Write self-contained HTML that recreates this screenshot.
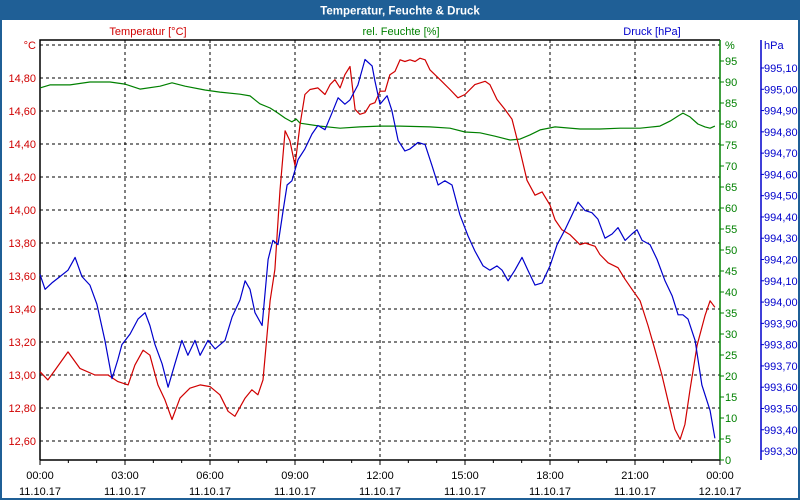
<!DOCTYPE html>
<html><head><meta charset="utf-8"><style>
body{margin:0;background:#fff;}
#w{width:800px;height:500px;position:relative;overflow:hidden;}
svg text{font-family:"Liberation Sans","DejaVu Sans",sans-serif;font-size:11px;}
</style></head><body>
<div id="w">
<svg id="c" width="800" height="500" xmlns="http://www.w3.org/2000/svg">
<rect x="0" y="0" width="800" height="500" fill="#fff" stroke="#1f5f96" stroke-width="4"/>
<rect x="0" y="0" width="800" height="20" fill="#1f5f96"/>
<text x="400" y="14.5" text-anchor="middle" fill="#fff" font-weight="bold" style="font-size:11.5px">Temperatur, Feuchte &amp; Druck</text>
<text x="148" y="35" text-anchor="middle" fill="#d00000">Temperatur [°C]</text>
<text x="401" y="35" text-anchor="middle" fill="#008000">rel. Feuchte [%]</text>
<text x="652" y="35" text-anchor="middle" fill="#0000cc">Druck [hPa]</text>
<g id="grid"></g>
<g id="axes"></g>
<g id="series"></g>
</svg>
</div>
<script>
const xTickHours=[0,3,6,9,12,15,18,21,24];
const xTickTimes=["00:00","03:00","06:00","09:00","12:00","15:00","18:00","21:00","00:00"];
const xTickDates=["11.10.17","11.10.17","11.10.17","11.10.17","11.10.17","11.10.17","11.10.17","11.10.17","12.10.17"];
const tempTicks=[14.8,14.6,14.4,14.2,14.0,13.8,13.6,13.4,13.2,13.0,12.8,12.6];
const humTicks=[95,90,85,80,75,70,65,60,55,50,45,40,35,30,25,20,15,10,5,0];
const presTicks=[995.1,995.0,994.9,994.8,994.7,994.6,994.5,994.4,994.3,994.2,994.1,994.0,993.9,993.8,993.7,993.6,993.5,993.4,993.3];

const tempHours=[0,.28,.53,.99,1.41,1.94,2.4,2.75,3.11,3.35,3.64,3.88,4.16,4.41,4.66,4.94,5.29,5.65,6,6.35,6.64,6.88,7.24,7.48,7.69,7.87,8.12,8.29,8.47,8.65,8.82,9,9.18,9.35,9.53,9.81,10.06,10.24,10.41,10.59,10.76,10.94,11.12,11.29,11.47,11.65,11.82,12,12.18,12.35,12.53,12.71,12.88,13.06,13.24,13.41,13.59,13.76,14.12,14.47,14.75,15,15.35,15.71,15.88,16.13,16.41,16.66,16.94,17.19,17.47,17.72,18,18.18,18.42,18.71,19.06,19.24,19.59,19.76,20.05,20.4,20.65,20.89,21.18,21.46,21.71,21.95,22.24,22.41,22.59,22.76,22.94,23.19,23.47,23.65,23.82];
const tempValues=[13.02,12.97,13.03,13.14,13.04,13,13,12.96,12.94,13.06,13.15,13.12,12.94,12.85,12.73,12.86,12.92,12.94,12.93,12.88,12.78,12.75,12.86,12.91,12.88,12.97,13.45,13.64,14.12,14.48,14.42,14.27,14.52,14.7,14.73,14.74,14.7,14.76,14.79,14.74,14.82,14.87,14.61,14.58,14.59,14.64,14.65,14.72,14.72,14.82,14.84,14.91,14.9,14.91,14.9,14.92,14.91,14.85,14.79,14.73,14.68,14.7,14.76,14.78,14.76,14.67,14.61,14.55,14.36,14.18,14.09,14.11,14.03,13.94,13.88,13.85,13.79,13.8,13.78,13.73,13.68,13.65,13.58,13.52,13.45,13.3,13.15,13,12.79,12.67,12.61,12.7,12.91,13.18,13.36,13.45,13.41];

const presHours=[0,.18,.42,.71,.99,1.24,1.48,1.76,2.01,2.29,2.54,2.75,2.89,3.18,3.46,3.71,3.88,4.06,4.31,4.52,4.76,5.01,5.22,5.47,5.65,5.93,6.18,6.53,6.78,7.06,7.24,7.41,7.59,7.84,8.05,8.22,8.4,8.58,8.72,8.89,9.11,9.35,9.6,9.81,10.06,10.31,10.52,10.76,10.94,11.22,11.47,11.72,11.82,12,12.25,12.42,12.64,12.88,13.06,13.34,13.59,13.84,14.05,14.29,14.54,14.82,15.11,15.35,15.64,15.88,16.13,16.31,16.52,16.76,17.01,17.22,17.47,17.72,18,18.25,18.53,18.78,18.99,19.24,19.48,19.69,19.94,20.19,20.4,20.65,20.89,21.07,21.25,21.53,21.78,22.06,22.31,22.52,22.69,22.87,23.12,23.36,23.65,23.82];
const presValues=[994.13,994.06,994.09,994.12,994.15,994.21,994.12,994.08,993.99,993.82,993.64,993.73,993.8,993.85,993.92,993.95,993.89,993.8,993.71,993.6,993.71,993.82,993.75,993.82,993.75,993.82,993.78,993.82,993.93,994.01,994.1,994.06,993.95,993.89,994.2,994.29,994.27,994.43,994.55,994.57,994.67,994.72,994.79,994.83,994.81,994.89,994.96,994.93,994.95,995.02,995.14,995.11,995.04,994.93,994.97,994.9,994.76,994.71,994.72,994.75,994.74,994.64,994.55,994.57,994.55,994.41,994.31,994.24,994.17,994.15,994.17,994.15,994.1,994.15,994.21,994.15,994.08,994.09,994.17,994.27,994.34,994.41,994.47,994.43,994.42,994.39,994.3,994.32,994.35,994.29,994.32,994.34,994.29,994.27,994.2,994.1,994.03,993.94,993.94,993.92,993.82,993.61,993.49,993.36];

const humHours=[0,.35,1.06,1.76,2.47,3,3.53,4.24,4.66,5.12,5.82,6.35,7.06,7.41,7.76,8.12,8.4,8.65,8.89,9.04,9.18,9.88,10.59,11.29,12,12.71,13.76,14.47,15,15.53,16.06,16.59,16.94,17.29,17.65,18.18,19.06,19.76,20.47,21.18,21.88,22.24,22.52,22.69,22.94,23.22,23.47,23.65,23.82];
const humValues=[88.6,89.3,89.3,90,90,89.5,88.3,89,89.8,89,88.1,87.6,87.1,86.7,84.8,83.8,82.6,81.4,80.5,81.2,80.2,79.5,79,79.3,79.5,79.5,79.3,79,78.1,77.9,77.1,76.2,76.4,77.4,78.6,79.3,78.8,78.8,79,79,79.5,80.7,81.9,82.6,81.7,80,79.3,79,79.5];

const L=40,R=720,B=460,T=40;
const xS=h=>L+h*(R-L)/24;
const yT=v=>45+(15-v)*165;
const yH=v=>460-v*4.2;
const yP=v=>68+(995.1-v)*212.8;
const NS="http://www.w3.org/2000/svg";
function mk(tag,attrs,parent,txt){const e=document.createElementNS(NS,tag);for(const k in attrs)e.setAttribute(k,attrs[k]);if(txt!==undefined)e.textContent=txt;parent.appendChild(e);return e;}
const grid=document.getElementById('grid'),axes=document.getElementById('axes'),ser=document.getElementById('series');
const fmt=(v,d)=>v.toFixed(d).replace('.',',');

[15].concat(tempTicks).forEach(v=>{
 const g=mk('line',{x1:L,x2:R,y1:yT(v),y2:yT(v),stroke:'#000','stroke-dasharray':'3,3','stroke-width':1},grid);
 
 
});
xTickHours.forEach(h=>{
 if(h===0||h===24)return;
 const g=mk('line',{x1:xS(h),x2:xS(h),y1:T,y2:B,stroke:'#000','stroke-dasharray':'3,3','stroke-width':1},grid);
 
 
});
let a=mk('polyline',{points:`${L},${B} ${L},${T} ${R},${T}`,fill:'none',stroke:'#000','stroke-width':1.5},axes);


a=mk('line',{x1:L,x2:R,y1:B,y2:B,stroke:'#000','stroke-width':1.5},axes);


a=mk('line',{x1:R,x2:R,y1:T,y2:B,stroke:'#008000','stroke-width':1.5},axes);


a=mk('line',{x1:761,x2:761,y1:T,y2:B,stroke:'#0000cc','stroke-width':1.5},axes);



for(let h=0;h<=24;h++){
 const t=mk('line',{x1:xS(h),x2:xS(h),y1:B,y2:B+(h%3===0?5:3),stroke:'#000'},axes);
 
 
}
xTickHours.forEach((h,i)=>{
 const t1=mk('text',{x:xS(h),y:479,'text-anchor':'middle',fill:'#000'},axes,xTickTimes[i]);
 
 
 const t2=mk('text',{x:xS(h),y:495,'text-anchor':'middle',fill:'#000'},axes,xTickDates[i]);
 
 
});
let u=mk('text',{x:36,y:49,'text-anchor':'end',fill:'#d00000'},axes,'°C');


tempTicks.forEach(v=>{
 const t=mk('text',{x:36,y:yT(v)+4,'text-anchor':'end',fill:'#d00000'},axes,fmt(v,2));
 
 
});
u=mk('text',{x:725,y:49,fill:'#008000'},axes,'%');


humTicks.forEach(v=>{
 const tk=mk('line',{x1:R,x2:R+4,y1:yH(v),y2:yH(v),stroke:'#008000'},axes);
 
 
 const t=mk('text',{x:725,y:yH(v)+4,fill:'#008000'},axes,String(v));
 
 
});
u=mk('text',{x:764,y:49,fill:'#0000cc'},axes,'hPa');


presTicks.forEach(v=>{
 const tk=mk('line',{x1:761,x2:764,y1:yP(v),y2:yP(v),stroke:'#0000cc'},axes);
 
 
 const t=mk('text',{x:764,y:yP(v)+4,fill:'#0000cc'},axes,fmt(v,2));
 
 
});
function line(hs,vs,yf,col,name){
 const pts=hs.map((h,i)=>xS(h).toFixed(1)+','+yf(vs[i]).toFixed(1)).join(' ');
 const p=mk('polyline',{points:pts,fill:'none',stroke:col,'stroke-width':1.2,'stroke-linejoin':'round'},ser);
 
 
}
line(humHours,humValues,yH,'#008000','humidity-line');
line(tempHours,tempValues,yT,'#d00000','temperature-line');
line(presHours,presValues,yP,'#0000cc','pressure-line');
</script>
</body></html>
